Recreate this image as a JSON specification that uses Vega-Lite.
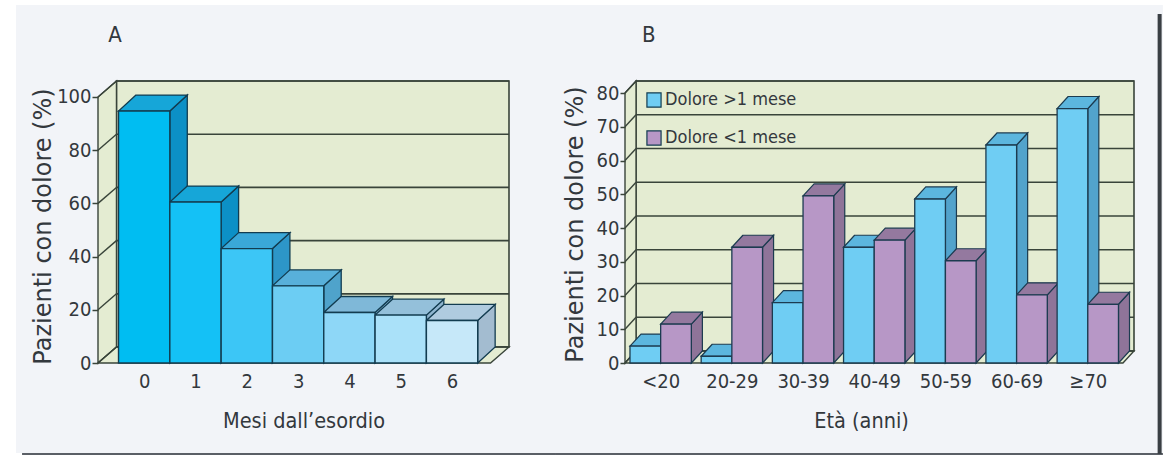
{
  "$schema": "https://vega.github.io/schema/vega-lite/v6.json",
  "background": "#ffffff",
  "padding": {"left": 16, "top": 4, "right": 0, "bottom": 0},
  "spacing": -3,
  "config": {
    "view": {"stroke": null},
    "axis": {
      "labelFont": "DejaVu Sans Condensed", "labelFontSize": 20, "labelColor": "#33383d",
      "titleFontWeight": "normal", "titleColor": "#33383d", "grid": false, "domain": false
    },
    "legend": {"labelFont": "DejaVu Sans Condensed", "labelFontSize": 18, "labelColor": "#33383d"}
  },
  "hconcat": [
    {
      "width": 411,
      "height": 282,
      "resolve": {"axis": {"x": "independent", "y": "independent"}},
      "data": {"values": [
        {"month": 0, "pct": 94.7},
        {"month": 1, "pct": 60.5},
        {"month": 2, "pct": 43},
        {"month": 3, "pct": 29},
        {"month": 4, "pct": 19},
        {"month": 5, "pct": 18},
        {"month": 6, "pct": 16}
      ]},
      "layer": [
        {
          "data": {"values": [{"k": 1}]},
          "transform": [
            {"calculate": "-1.998", "as": "xa"}, {"calculate": "8.508", "as": "xb"},
            {"calculate": "134.6", "as": "ya"}, {"calculate": "-33.8", "as": "yb"}
          ],
          "mark": {"type": "rect", "fill": "#f2f4f8"},
          "encoding": {
            "x": {"field": "xa", "type": "quantitative", "scale": {"domain": [-0.4, 7.61], "nice": false, "zero": false},
              "title": "Mesi dall’esordio",
              "axis": {"zindex": 1, "values": [0.5, 1.5, 2.5, 3.5, 4.5, 5.5, 6.5], "labelExpr": "floor(datum.value)", "ticks": false, "labelPadding": 8,
                "titleFont": "DejaVu Sans Condensed", "titleFontSize": 21.5, "titlePadding": 19}},
            "x2": {"field": "xb"},
            "y": {"field": "ya", "type": "quantitative", "scale": {"domain": [0, 106], "nice": false, "zero": false},
              "title": "Pazienti con dolore (%)",
              "axis": {"zindex": 1, "values": [0, 20, 40, 60, 80, 100], "tickSize": 6, "tickColor": "#39443a", "tickWidth": 1.5, "labelPadding": 1,
                "titleFont": "DejaVu Sans", "titleFontSize": 24, "titleY": 145, "titleX": -43}},
            "y2": {"field": "yb"}
          }
        },
        {
          "data": {"values": [{"k": 1}]},
          "transform": [
            {"calculate": "-0.04", "as": "xa"}, {"calculate": "7.61", "as": "xb"},
            {"calculate": "6", "as": "ya"}, {"calculate": "106", "as": "yb"}
          ],
          "mark": {"type": "rect", "fill": "#e4ecd2", "stroke": "#39443a", "strokeWidth": 1.6},
          "encoding": {
            "x": {"field": "xa", "type": "quantitative", "scale": {"domain": [-0.4, 7.61], "nice": false, "zero": false}, "axis": null},
            "x2": {"field": "xb"},
            "y": {"field": "ya", "type": "quantitative", "scale": {"domain": [0, 106], "nice": false, "zero": false}, "axis": null},
            "y2": {"field": "yb"}
          }
        },
        {
          "data": {"values": [{"edge": 0}, {"edge": 1}]},
          "transform": [
            {"calculate": "-0.4+datum.edge*0.36", "as": "xw"},
            {"calculate": "datum.edge*6", "as": "ylo"},
            {"calculate": "100+datum.edge*6", "as": "yhi"}
          ],
          "mark": {"type": "area", "orient": "vertical", "fill": "#e4ecd2", "stroke": "#39443a", "strokeWidth": 1.4},
          "encoding": {
            "x": {"field": "xw", "type": "quantitative", "scale": {"domain": [-0.4, 7.61], "nice": false, "zero": false}, "axis": null},
            "y": {"field": "ylo", "type": "quantitative", "scale": {"domain": [0, 106], "nice": false, "zero": false}, "axis": null},
            "y2": {"field": "yhi"}
          }
        },
        {
          "data": {"values": [{"edge": 0}, {"edge": 1}]},
          "transform": [
            {"calculate": "-0.4+datum.edge*0.36", "as": "xl"},
            {"calculate": "7.25+datum.edge*0.36", "as": "xr"},
            {"calculate": "datum.edge*6", "as": "yf"}
          ],
          "mark": {"type": "area", "orient": "horizontal", "fill": "#e4ecd2", "stroke": "#39443a", "strokeWidth": 1.4},
          "encoding": {
            "y": {"field": "yf", "type": "quantitative", "scale": {"domain": [0, 106], "nice": false, "zero": false}, "axis": null},
            "x": {"field": "xl", "type": "quantitative", "scale": {"domain": [-0.4, 7.61], "nice": false, "zero": false}, "axis": null},
            "x2": {"field": "xr"}
          }
        },
        {
          "data": {"values": [{"t": 0}, {"t": 20}, {"t": 40}, {"t": 60}, {"t": 80}, {"t": 100}]},
          "transform": [
            {"calculate": "datum.t+6", "as": "tb"},
            {"calculate": "-0.04", "as": "xa"}, {"calculate": "7.61", "as": "xb"}
          ],
          "mark": {"type": "rule", "stroke": "#39443a", "strokeWidth": 1.6},
          "encoding": {
            "x": {"field": "xa", "type": "quantitative", "scale": {"domain": [-0.4, 7.61], "nice": false, "zero": false}, "axis": null},
            "x2": {"field": "xb"},
            "y": {"field": "tb", "type": "quantitative", "scale": {"domain": [0, 106], "nice": false, "zero": false}, "axis": null}
          }
        },
        {
          "data": {"values": [{"t": 0}, {"t": 20}, {"t": 40}, {"t": 60}, {"t": 80}, {"t": 100}]},
          "transform": [
            {"calculate": "datum.t+6", "as": "tb"},
            {"calculate": "-0.4", "as": "xa"}, {"calculate": "-0.04", "as": "xb"}
          ],
          "mark": {"type": "rule", "stroke": "#39443a", "strokeWidth": 1.4},
          "encoding": {
            "x": {"field": "xa", "type": "quantitative", "scale": {"domain": [-0.4, 7.61], "nice": false, "zero": false}, "axis": null},
            "x2": {"field": "xb"},
            "y": {"field": "t", "type": "quantitative", "scale": {"domain": [0, 106], "nice": false, "zero": false}, "axis": null},
            "y2": {"field": "tb"}
          }
        },
        {
          "transform": [
            {"calculate": "0", "as": "fronte"},
            {"calculate": "1", "as": "retro"},
            {"fold": ["fronte", "retro"], "as": ["lato", "edge"]},
            {"calculate": "datum.month+1+datum.edge*0.34", "as": "xs"},
            {"calculate": "datum.edge*6", "as": "ys0"},
            {"calculate": "datum.pct+datum.edge*6", "as": "ys1"},
            {"calculate": "['#0c90c6','#0c90c6','#2d96c8','#4fa3cb','#78aecd','#8fb5cf','#a3bcd0'][datum.month]", "as": "tinta"}
          ],
          "mark": {"type": "area", "orient": "vertical", "stroke": "#123c50", "strokeWidth": 1.3},
          "encoding": {
            "x": {"field": "xs", "type": "quantitative", "scale": {"domain": [-0.4, 7.61], "nice": false, "zero": false}, "axis": null},
            "y": {"field": "ys0", "type": "quantitative", "scale": {"domain": [0, 106], "nice": false, "zero": false}, "axis": null},
            "y2": {"field": "ys1"},
            "detail": {"field": "month"},
            "fill": {"field": "tinta", "type": "nominal", "scale": null}
          }
        },
        {
          "transform": [
            {"calculate": "0", "as": "fronte"},
            {"calculate": "1", "as": "retro"},
            {"fold": ["fronte", "retro"], "as": ["lato", "edge"]},
            {"calculate": "datum.month+datum.edge*0.34", "as": "xl"},
            {"calculate": "datum.month+1+datum.edge*0.34", "as": "xr"},
            {"calculate": "datum.pct+datum.edge*6", "as": "yt"},
            {"calculate": "['#16a6d8','#16a6d8','#3aa8d8','#58b0da','#7fb8d8','#94c0da','#afcbdf'][datum.month]", "as": "tinta"}
          ],
          "mark": {"type": "area", "orient": "horizontal", "stroke": "#123c50", "strokeWidth": 1.3},
          "encoding": {
            "y": {"field": "yt", "type": "quantitative", "scale": {"domain": [0, 106], "nice": false, "zero": false}, "axis": null},
            "x": {"field": "xl", "type": "quantitative", "scale": {"domain": [-0.4, 7.61], "nice": false, "zero": false}, "axis": null},
            "x2": {"field": "xr"},
            "detail": {"field": "month"},
            "fill": {"field": "tinta", "type": "nominal", "scale": null}
          }
        },
        {
          "transform": [
            {"calculate": "datum.month+1", "as": "fine"},
            {"calculate": "0", "as": "base"},
            {"calculate": "['#00bdf2','#14c1f6','#3cc6f6','#6ccdf3','#8ed7f7','#aae1f9','#c6e8f9'][datum.month]", "as": "tinta"}
          ],
          "mark": {"type": "rect", "stroke": "#123c50", "strokeWidth": 1.4},
          "encoding": {
            "x": {"field": "month", "type": "quantitative", "scale": {"domain": [-0.4, 7.61], "nice": false, "zero": false}, "axis": null},
            "x2": {"field": "fine"},
            "y": {"field": "pct", "type": "quantitative", "scale": {"domain": [0, 106], "nice": false, "zero": false}, "axis": null},
            "y2": {"field": "base"},
            "fill": {"field": "tinta", "type": "nominal", "scale": null}
          }
        },
        {
          "data": {"values": [{"pannello": "A"}]},
          "transform": [{"calculate": "-0.2", "as": "xt"}, {"calculate": "120.7", "as": "yt"}],
          "mark": {"type": "text", "font": "DejaVu Sans Condensed", "fontSize": 22, "fill": "#33383d", "align": "left", "baseline": "alphabetic"},
          "encoding": {
            "x": {"field": "xt", "type": "quantitative", "scale": {"domain": [-0.4, 7.61], "nice": false, "zero": false}, "axis": null},
            "y": {"field": "yt", "type": "quantitative", "scale": {"domain": [0, 106], "nice": false, "zero": false}, "axis": null},
            "text": {"field": "pannello"}
          }
        },
        {
          "data": {"values": [{"k": 1}]},
          "transform": [{"calculate": "-1.88", "as": "xa"}, {"calculate": "8.508", "as": "xb"}, {"calculate": "-34.2", "as": "ya"}],
          "mark": {"type": "rule", "stroke": "#5a5f66", "strokeWidth": 2},
          "encoding": {
            "x": {"field": "xa", "type": "quantitative", "scale": {"domain": [-0.4, 7.61], "nice": false, "zero": false}, "axis": null},
            "x2": {"field": "xb"},
            "y": {"field": "ya", "type": "quantitative", "scale": {"domain": [0, 106], "nice": false, "zero": false}, "axis": null}
          }
        }
      ]
    },
    {
      "width": 509,
      "height": 282,
      "resolve": {"axis": {"x": "independent", "y": "independent"}},
      "data": {"values": [
        {"gruppo": 0, "eta": "<20", "serie": "Dolore >1 mese", "pct": 5},
        {"gruppo": 1, "eta": "20-29", "serie": "Dolore >1 mese", "pct": 2},
        {"gruppo": 2, "eta": "30-39", "serie": "Dolore >1 mese", "pct": 17.9},
        {"gruppo": 3, "eta": "40-49", "serie": "Dolore >1 mese", "pct": 34.3},
        {"gruppo": 4, "eta": "50-59", "serie": "Dolore >1 mese", "pct": 48.6},
        {"gruppo": 5, "eta": "60-69", "serie": "Dolore >1 mese", "pct": 64.6},
        {"gruppo": 6, "eta": "≥70", "serie": "Dolore >1 mese", "pct": 75.4},
        {"gruppo": 0, "eta": "<20", "serie": "Dolore <1 mese", "pct": 11.5},
        {"gruppo": 1, "eta": "20-29", "serie": "Dolore <1 mese", "pct": 34.3},
        {"gruppo": 2, "eta": "30-39", "serie": "Dolore <1 mese", "pct": 49.5},
        {"gruppo": 3, "eta": "40-49", "serie": "Dolore <1 mese", "pct": 36.4},
        {"gruppo": 4, "eta": "50-59", "serie": "Dolore <1 mese", "pct": 30.3},
        {"gruppo": 5, "eta": "60-69", "serie": "Dolore <1 mese", "pct": 20.2},
        {"gruppo": 6, "eta": "≥70", "serie": "Dolore <1 mese", "pct": 17.4}
      ]},
      "layer": [
        {
          "data": {"values": [{"k": 1}]},
          "transform": [
            {"calculate": "-1.053", "as": "xa"}, {"calculate": "7.486", "as": "xb"},
            {"calculate": "106.07", "as": "ya"}, {"calculate": "-26.67", "as": "yb"}
          ],
          "mark": {"type": "rect", "fill": "#f2f4f8"},
          "encoding": {
            "x": {"field": "xa", "type": "quantitative", "scale": {"domain": [-0.07, 7.08], "nice": false, "zero": false},
              "title": "Età (anni)",
              "axis": {"zindex": 1, "values": [0.431, 1.431, 2.431, 3.431, 4.431, 5.431, 6.431],
                "labelExpr": "['<20','20-29','30-39','40-49','50-59','60-69','≥70'][floor(datum.value)]",
                "ticks": false, "labelPadding": 8, "titleX": 236,
                "titleFont": "DejaVu Sans Condensed", "titleFontSize": 21.5, "titlePadding": 19}},
            "x2": {"field": "xb"},
            "y": {"field": "ya", "type": "quantitative", "scale": {"domain": [0, 83.56], "nice": false, "zero": false},
              "title": "Pazienti con dolore (%)",
              "axis": {"zindex": 1, "values": [0, 10, 20, 30, 40, 50, 60, 70, 80], "tickSize": 5, "tickColor": "#39443a", "tickWidth": 1.5, "labelPadding": 1,
                "titleFont": "DejaVu Sans", "titleFontSize": 24, "titleY": 143, "titleX": -38}},
            "y2": {"field": "yb"}
          }
        },
        {
          "data": {"values": [{"k": 1}]},
          "transform": [
            {"calculate": "0.085", "as": "xa"}, {"calculate": "7.08", "as": "xb"},
            {"calculate": "3.56", "as": "ya"}, {"calculate": "83.56", "as": "yb"}
          ],
          "mark": {"type": "rect", "fill": "#e4ecd2", "stroke": "#39443a", "strokeWidth": 1.6},
          "encoding": {
            "x": {"field": "xa", "type": "quantitative", "scale": {"domain": [-0.07, 7.08], "nice": false, "zero": false}, "axis": null},
            "x2": {"field": "xb"},
            "y": {"field": "ya", "type": "quantitative", "scale": {"domain": [0, 83.56], "nice": false, "zero": false}, "axis": null},
            "y2": {"field": "yb"}
          }
        },
        {
          "data": {"values": [{"edge": 0}, {"edge": 1}]},
          "transform": [
            {"calculate": "-0.07+datum.edge*0.155", "as": "xw"},
            {"calculate": "datum.edge*3.56", "as": "ylo"},
            {"calculate": "80+datum.edge*3.56", "as": "yhi"}
          ],
          "mark": {"type": "area", "orient": "vertical", "fill": "#e4ecd2", "stroke": "#39443a", "strokeWidth": 1.4},
          "encoding": {
            "x": {"field": "xw", "type": "quantitative", "scale": {"domain": [-0.07, 7.08], "nice": false, "zero": false}, "axis": null},
            "y": {"field": "ylo", "type": "quantitative", "scale": {"domain": [0, 83.56], "nice": false, "zero": false}, "axis": null},
            "y2": {"field": "yhi"}
          }
        },
        {
          "data": {"values": [{"edge": 0}, {"edge": 1}]},
          "transform": [
            {"calculate": "-0.07+datum.edge*0.155", "as": "xl"},
            {"calculate": "6.925+datum.edge*0.155", "as": "xr"},
            {"calculate": "datum.edge*3.56", "as": "yf"}
          ],
          "mark": {"type": "area", "orient": "horizontal", "fill": "#e4ecd2", "stroke": "#39443a", "strokeWidth": 1.4},
          "encoding": {
            "y": {"field": "yf", "type": "quantitative", "scale": {"domain": [0, 83.56], "nice": false, "zero": false}, "axis": null},
            "x": {"field": "xl", "type": "quantitative", "scale": {"domain": [-0.07, 7.08], "nice": false, "zero": false}, "axis": null},
            "x2": {"field": "xr"}
          }
        },
        {
          "data": {"values": [{"t": 0}, {"t": 10}, {"t": 20}, {"t": 30}, {"t": 40}, {"t": 50}, {"t": 60}, {"t": 70}, {"t": 80}]},
          "transform": [
            {"calculate": "datum.t+3.56", "as": "tb"},
            {"calculate": "0.085", "as": "xa"}, {"calculate": "7.08", "as": "xb"}
          ],
          "mark": {"type": "rule", "stroke": "#39443a", "strokeWidth": 1.6},
          "encoding": {
            "x": {"field": "xa", "type": "quantitative", "scale": {"domain": [-0.07, 7.08], "nice": false, "zero": false}, "axis": null},
            "x2": {"field": "xb"},
            "y": {"field": "tb", "type": "quantitative", "scale": {"domain": [0, 83.56], "nice": false, "zero": false}, "axis": null}
          }
        },
        {
          "data": {"values": [{"t": 0}, {"t": 10}, {"t": 20}, {"t": 30}, {"t": 40}, {"t": 50}, {"t": 60}, {"t": 70}, {"t": 80}]},
          "transform": [
            {"calculate": "datum.t+3.56", "as": "tb"},
            {"calculate": "-0.07", "as": "xa"}, {"calculate": "0.085", "as": "xb"}
          ],
          "mark": {"type": "rule", "stroke": "#39443a", "strokeWidth": 1.4},
          "encoding": {
            "x": {"field": "xa", "type": "quantitative", "scale": {"domain": [-0.07, 7.08], "nice": false, "zero": false}, "axis": null},
            "x2": {"field": "xb"},
            "y": {"field": "t", "type": "quantitative", "scale": {"domain": [0, 83.56], "nice": false, "zero": false}, "axis": null},
            "y2": {"field": "tb"}
          }
        },
        {
          "transform": [
            {"calculate": "0", "as": "fronte"},
            {"calculate": "1", "as": "retro"},
            {"fold": ["fronte", "retro"], "as": ["lato", "edge"]},
            {"calculate": "datum.gruppo+(datum.serie==='Dolore <1 mese'?0.862:0.431)+datum.edge*0.155", "as": "xs"},
            {"calculate": "datum.edge*3.56", "as": "ys0"},
            {"calculate": "datum.pct+datum.edge*3.56", "as": "ys1"},
            {"calculate": "datum.serie==='Dolore <1 mese'?'#8f7499':'#52a3cc'", "as": "tinta"},
            {"calculate": "datum.serie+datum.gruppo", "as": "barra"}
          ],
          "mark": {"type": "area", "orient": "vertical", "stroke": "#1c3b50", "strokeWidth": 1.2},
          "encoding": {
            "x": {"field": "xs", "type": "quantitative", "scale": {"domain": [-0.07, 7.08], "nice": false, "zero": false}, "axis": null},
            "y": {"field": "ys0", "type": "quantitative", "scale": {"domain": [0, 83.56], "nice": false, "zero": false}, "axis": null},
            "y2": {"field": "ys1"},
            "detail": {"field": "barra"},
            "fill": {"field": "tinta", "type": "nominal", "scale": null}
          }
        },
        {
          "transform": [
            {"calculate": "0", "as": "fronte"},
            {"calculate": "1", "as": "retro"},
            {"fold": ["fronte", "retro"], "as": ["lato", "edge"]},
            {"calculate": "datum.gruppo+(datum.serie==='Dolore <1 mese'?0.431:0)+datum.edge*0.155", "as": "xl"},
            {"calculate": "datum.xl+0.431", "as": "xr"},
            {"calculate": "datum.pct+datum.edge*3.56", "as": "yt"},
            {"calculate": "datum.serie==='Dolore <1 mese'?'#94799f':'#5cb6de'", "as": "tinta"},
            {"calculate": "datum.serie+datum.gruppo", "as": "barra"}
          ],
          "mark": {"type": "area", "orient": "horizontal", "stroke": "#1c3b50", "strokeWidth": 1.2},
          "encoding": {
            "y": {"field": "yt", "type": "quantitative", "scale": {"domain": [0, 83.56], "nice": false, "zero": false}, "axis": null},
            "x": {"field": "xl", "type": "quantitative", "scale": {"domain": [-0.07, 7.08], "nice": false, "zero": false}, "axis": null},
            "x2": {"field": "xr"},
            "detail": {"field": "barra"},
            "fill": {"field": "tinta", "type": "nominal", "scale": null}
          }
        },
        {
          "transform": [
            {"calculate": "datum.gruppo+(datum.serie==='Dolore <1 mese'?0.431:0)", "as": "xl"},
            {"calculate": "datum.xl+0.431", "as": "xr"},
            {"calculate": "0", "as": "base"}
          ],
          "mark": {"type": "rect", "stroke": "#1c3b50", "strokeWidth": 1.3},
          "encoding": {
            "x": {"field": "xl", "type": "quantitative", "scale": {"domain": [-0.07, 7.08], "nice": false, "zero": false}, "axis": null},
            "x2": {"field": "xr"},
            "y": {"field": "pct", "type": "quantitative", "scale": {"domain": [0, 83.56], "nice": false, "zero": false}, "axis": null},
            "y2": {"field": "base"},
            "fill": {"field": "serie", "type": "nominal",
              "scale": {"domain": ["Dolore >1 mese", "Dolore <1 mese"], "range": ["#6fcdf3", "#b797c6"]},
              "legend": {"orient": "none", "legendX": 547, "legendY": 10, "title": null, "symbolType": "square", "symbolSize": 200,
                "symbolStrokeColor": "#1c3b50", "symbolStrokeWidth": 1.2, "rowPadding": 18, "labelOffset": 2, "labelLimit": 200}}
          }
        },
        {
          "data": {"values": [{"pannello": "B"}]},
          "transform": [{"calculate": "0.17", "as": "xt"}, {"calculate": "95.1", "as": "yt"}],
          "mark": {"type": "text", "font": "DejaVu Sans Condensed", "fontSize": 22, "fill": "#33383d", "align": "left", "baseline": "alphabetic"},
          "encoding": {
            "x": {"field": "xt", "type": "quantitative", "scale": {"domain": [-0.07, 7.08], "nice": false, "zero": false}, "axis": null},
            "y": {"field": "yt", "type": "quantitative", "scale": {"domain": [0, 83.56], "nice": false, "zero": false}, "axis": null},
            "text": {"field": "pannello"}
          }
        },
        {
          "data": {"values": [{"k": 1}]},
          "transform": [{"calculate": "-1.053", "as": "xa"}, {"calculate": "7.486", "as": "xb"}, {"calculate": "-27", "as": "ya"}],
          "mark": {"type": "rule", "stroke": "#5a5f66", "strokeWidth": 2},
          "encoding": {
            "x": {"field": "xa", "type": "quantitative", "scale": {"domain": [-0.07, 7.08], "nice": false, "zero": false}, "axis": null},
            "x2": {"field": "xb"},
            "y": {"field": "ya", "type": "quantitative", "scale": {"domain": [0, 83.56], "nice": false, "zero": false}, "axis": null}
          }
        },
        {
          "data": {"values": [{"k": 1}]},
          "transform": [{"calculate": "7.44", "as": "xa"}, {"calculate": "103.4", "as": "ya"}, {"calculate": "-27", "as": "yb"}],
          "mark": {"type": "rule", "stroke": "#3a3f44", "strokeWidth": 4},
          "encoding": {
            "x": {"field": "xa", "type": "quantitative", "scale": {"domain": [-0.07, 7.08], "nice": false, "zero": false}, "axis": null},
            "y": {"field": "ya", "type": "quantitative", "scale": {"domain": [0, 83.56], "nice": false, "zero": false}, "axis": null},
            "y2": {"field": "yb"}
          }
        }
      ]
    }
  ]
}
